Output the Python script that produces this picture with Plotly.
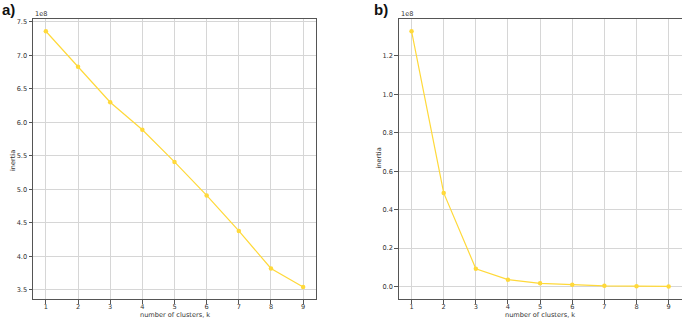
import plotly.graph_objects as go

k_values = [1, 2, 3, 4, 5, 6, 7, 8, 9]
inertia_a = [7.36e8, 6.83e8, 6.30e8, 5.89e8, 5.41e8, 4.91e8, 4.38e8, 3.82e8, 3.545e8]
inertia_b = [1.328e8, 0.487e8, 0.093e8, 0.036e8, 0.017e8, 0.010e8, 0.004e8, 0.002e8, 0.001e8]
scale = 1e8
yticks_a = [3.5, 4.0, 4.5, 5.0, 5.5, 6.0, 6.5, 7.0, 7.5]
yticks_b = [0.0, 0.2, 0.4, 0.6, 0.8, 1.0, 1.2]

W, H = 682, 319
color = "#FFD93A"
grid = "#d6d6d6"
spine = "#555555"
font_family = "DejaVu Sans"
fs = 6.6
tfont = dict(family=font_family, size=fs, color="#333")

fig = go.Figure()
fig.add_trace(go.Scatter(x=k_values, y=[v / scale for v in inertia_a], mode="lines+markers",
                         line=dict(color=color, width=1.2), marker=dict(color=color, size=4.5, symbol="circle"),
                         xaxis="x", yaxis="y", showlegend=False))
fig.add_trace(go.Scatter(x=k_values, y=[v / scale for v in inertia_b], mode="lines+markers",
                         line=dict(color=color, width=1.2), marker=dict(color=color, size=4.5, symbol="circle"),
                         xaxis="x2", yaxis="y2", showlegend=False))

dom_a = [33 / W, 316 / W]
dom_b = [398.7 / W, 681.5 / W]
dom_y = [1 - 299.3 / H, 1 - 18.5 / H]

common_x = dict(tickvals=k_values, showgrid=True, gridcolor=grid, gridwidth=1, zeroline=False, automargin=False,
                showline=True, linecolor=spine, linewidth=1, mirror=True, ticks="outside", ticklen=3.5,
                tickcolor=spine, tickwidth=0.8, tickfont=tfont, ticklabelstandoff=-3)
common_y = dict(showgrid=True, gridcolor=grid, gridwidth=1, zeroline=False, automargin=False,
                showline=True, linecolor=spine, linewidth=1, mirror=True, ticks="outside", ticklen=3.5,
                tickcolor=spine, tickwidth=0.8, tickfont=tfont, tickformat=".1f")


def ann(text, x, y, **kw):
    d = dict(text=text, x=x / W, y=1 - y / H, xref="paper", yref="paper", showarrow=False, font=tfont)
    d.update(kw)
    return d


fig.update_layout(
    width=W, height=H, margin=dict(l=0, r=0, t=0, b=0),
    paper_bgcolor="white", plot_bgcolor="white",
    xaxis=dict(domain=dom_a, range=[0.6, 9.4], anchor="y", **common_x),
    yaxis=dict(domain=dom_y, range=[3.36, 7.55], tickvals=yticks_a, anchor="x", **common_y),
    xaxis2=dict(domain=dom_b, range=[0.6, 9.4], anchor="y2", **common_x),
    yaxis2=dict(domain=dom_y, range=[-0.066, 1.394], tickvals=yticks_b, anchor="x2", **common_y),
    annotations=[
        ann("1e8", dom_a[0] * W, 14, xanchor="left", yanchor="middle"),
        ann("1e8", dom_b[0] * W, 14, xanchor="left", yanchor="middle"),
        ann("number of clusters, k", (dom_a[0] + dom_a[1]) / 2 * W, 314.5, xanchor="center", yanchor="middle"),
        ann("number of clusters, k", (dom_b[0] + dom_b[1]) / 2 * W, 314.5, xanchor="center", yanchor="middle"),
        ann("inertia", 13, 161, xanchor="center", yanchor="middle", textangle=-90),
        ann("inertia", 378.5, 158, xanchor="center", yanchor="middle", textangle=-90),
        ann("<b>a)</b>", 0, 9, xanchor="left", yanchor="middle",
            font=dict(family="Liberation Sans", size=15, color="#111")),
        ann("<b>b)</b>", 372, 9, xanchor="left", yanchor="middle",
            font=dict(family="Liberation Sans", size=15, color="#111")),
    ],
)

fig.write_html("out.html")
